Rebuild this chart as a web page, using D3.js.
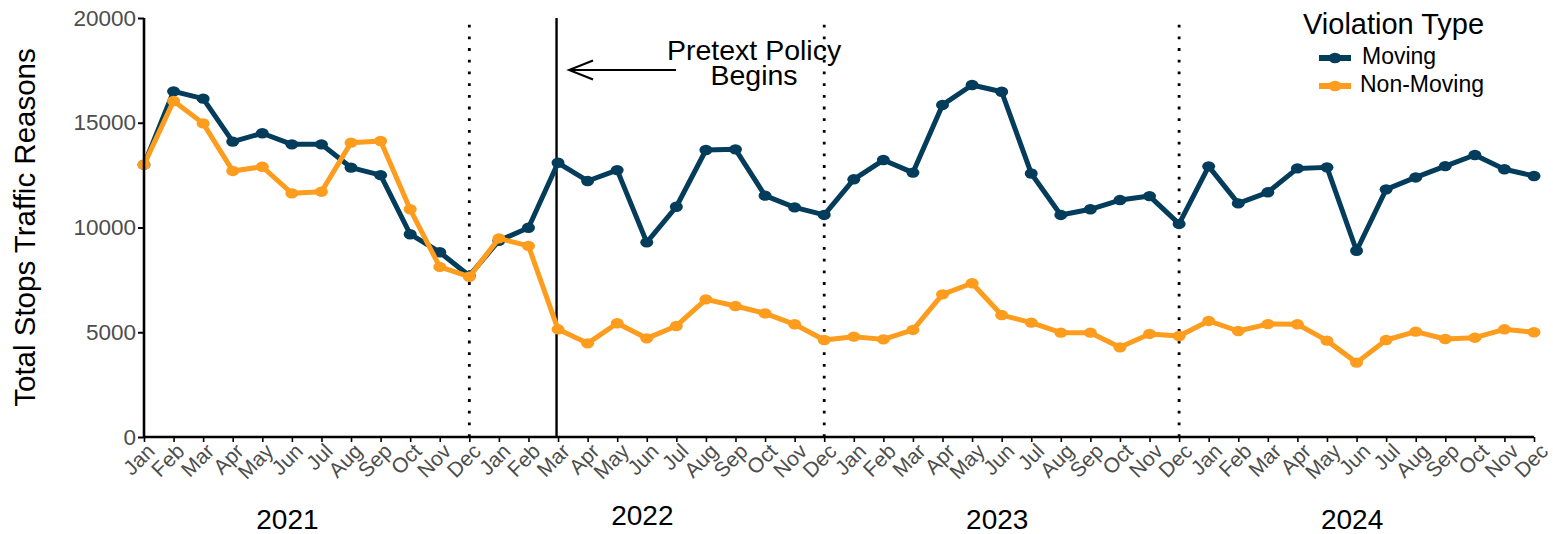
<!DOCTYPE html>
<html>
<head>
<meta charset="utf-8">
<script src="https://cdn.jsdelivr.net/npm/d3@7"></script>
<style>
  html, body { margin: 0; padding: 0; background: #ffffff; }
  svg { display: block; font-family: "Liberation Sans", Arial, Helvetica, sans-serif; }
</style>
</head>
<body>
<svg id="chart" width="1553" height="534"></svg>
<script>
// ---------------- data ----------------
const monthNames = ["Jan","Feb","Mar","Apr","May","Jun","Jul","Aug","Sep","Oct","Nov","Dec"];
const years = [2021, 2022, 2023, 2024];
const moving = [
  13000, 16500, 16150, 14100, 14500, 13970, 13970, 12860, 12500, 9680, 8820, 7700,
  9370, 9990, 13090, 12220, 12740, 9290, 10990, 13700, 13730, 11520, 10960, 10600,
  12300, 13220, 12620, 15850, 16800, 16480, 12580, 10600, 10870, 11310, 11500, 10170,
  12920, 11150, 11680, 12820, 12870, 8890, 11820, 12390, 12930, 13460, 12780, 12460
];
const nonMoving = [
  13000, 16040, 14970, 12700, 12900, 11630, 11710, 14050, 14130, 10870, 8120, 7650,
  9480, 9120, 5140, 4470, 5430, 4710, 5300, 6570, 6250, 5900, 5380, 4630,
  4790, 4660, 5110, 6810, 7340, 5820, 5460, 4980, 4980, 4280, 4920, 4820,
  5540, 5060, 5390, 5380, 4600, 3550, 4630, 5030, 4680, 4740, 5140, 5000
];
const yTicks = [0, 5000, 10000, 15000, 20000];
const seriesNames = ["Moving", "Non-Moving"];
const seriesColors = ["#043c5b", "#fd9c1d"];
const yearEndIndices = [11, 23, 35];   // Dec 2021, Dec 2022, Dec 2023
const policyIndex = 14;                // Mar 2022
const annotationLines = ["Pretext Policy", "Begins"];
const yTitle = "Total Stops Traffic Reasons";
const legendTitle = "Violation Type";

// ---------------- layout ----------------
const svg = d3.select("#chart");
const nPts = moving.length;
const x = d3.scaleLinear().domain([0, nPts - 1]).range([144, 1534]);
const y = d3.scaleLinear().domain([0, 20000]).range([437, 18]);

const labels = d3.range(nPts).map(i => monthNames[i % 12]);
const series = [
  { name: seriesNames[0], values: moving, color: seriesColors[0] },
  { name: seriesNames[1], values: nonMoving, color: seriesColors[1] }
];

// ---------------- reference lines ----------------
svg.selectAll("line.dec")
  .data(yearEndIndices)
  .join("line")
  .attr("class", "dec")
  .attr("x1", d => x(d)).attr("x2", d => x(d))
  .attr("y1", y(0)).attr("y2", y(19700))
  .attr("stroke", "#000")
  .attr("stroke-width", 2.8)
  .attr("stroke-dasharray", "2.8 8.9");

svg.append("line")
  .attr("x1", x(policyIndex) - 1.5).attr("x2", x(policyIndex) - 1.5)
  .attr("y1", y(0)).attr("y2", y(20000))
  .attr("stroke", "#000")
  .attr("stroke-width", 2.4);

// ---------------- series ----------------
const line = d3.line().x((d, i) => x(i)).y(d => y(d));

series.forEach(s => {
  const g = svg.append("g");
  g.append("path")
    .datum(s.values)
    .attr("d", line)
    .attr("fill", "none")
    .attr("stroke", s.color)
    .attr("stroke-width", 5)
    .attr("stroke-linejoin", "round");
  g.selectAll("ellipse")
    .data(s.values)
    .join("ellipse")
    .attr("cx", (d, i) => x(i))
    .attr("cy", d => y(d))
    .attr("rx", 6.5)
    .attr("ry", 5.2)
    .attr("fill", s.color);
});

// ---------------- axes ----------------
const yAxis = svg.append("g")
  .attr("transform", `translate(${x(0)},0)`)
  .call(d3.axisLeft(y).tickValues(yTicks).tickFormat(d3.format("d")).tickSize(6).tickPadding(2));
yAxis.select(".domain").attr("stroke", "#000").attr("stroke-width", 2.6)
  .attr("d", `M0,${y(20000)}V${y(0)}`);
yAxis.selectAll(".tick line").attr("stroke", "#000").attr("stroke-width", 2);
yAxis.selectAll(".tick text")
  .attr("fill", "#4d4d4d")
  .style("font-size", "22.5px")
  .style("font-family", "'Liberation Sans', Arial, sans-serif");

const xAxis = svg.append("g")
  .attr("transform", `translate(0,${y(0)})`)
  .call(d3.axisBottom(x).tickValues(d3.range(nPts)).tickFormat(() => "").tickSize(5));
xAxis.select(".domain").attr("stroke", "#000").attr("stroke-width", 2.6)
  .attr("d", `M${x(0)},0H${x(nPts - 1)}`);
xAxis.selectAll(".tick line").attr("stroke", "#000").attr("stroke-width", 1.6);

// Month labels (rotated 45 degrees, top-right corner near the tick)
svg.append("g")
  .selectAll("text.month")
  .data(labels)
  .join("text")
  .attr("class", "month")
  .attr("transform", (d, i) => `translate(${x(i) + 1.5 + 3.5 * i / (nPts - 1)},${y(0) + 5}) rotate(-45)`)
  .attr("text-anchor", "end")
  .attr("dy", "0.71em")
  .attr("fill", "#4d4d4d")
  .style("font-size", "21px")
  .text(d => d);

// Year labels
svg.selectAll("text.year")
  .data(years)
  .join("text")
  .attr("class", "year")
  .attr("x", (d, i) => x(i * 12 + 4.85))
  .attr("y", (d, i) => i === 1 ? 525 : 529)
  .attr("text-anchor", "middle")
  .attr("fill", "#000")
  .style("font-size", "28px")
  .text(d => d);

// Y axis title
svg.append("text")
  .attr("transform", `translate(35,${(y(0) + y(20000)) / 2}) rotate(-90)`)
  .attr("text-anchor", "middle")
  .attr("fill", "#000")
  .style("font-size", "29.5px")
  .text(yTitle);

// ---------------- annotation ----------------
const px = x(policyIndex);
const ay = 70;
svg.append("line")
  .attr("x1", px + 118).attr("x2", px + 11)
  .attr("y1", ay).attr("y2", ay)
  .attr("stroke", "#000").attr("stroke-width", 2);
svg.append("path")
  .attr("d", `M${px + 35},${ay - 9.5}L${px + 11},${ay}L${px + 35},${ay + 9.5}`)
  .attr("fill", "none").attr("stroke", "#000").attr("stroke-width", 2);
const annot = svg.append("text")
  .attr("text-anchor", "middle")
  .attr("fill", "#000")
  .style("font-size", "28.5px");
annot.selectAll("tspan")
  .data(annotationLines)
  .join("tspan")
  .attr("x", px + 196)
  .attr("y", (d, i) => 60 + i * 24.5)
  .text(d => d);

// ---------------- legend ----------------
const lg = svg.append("g");
lg.append("text")
  .attr("x", 1303).attr("y", 34)
  .attr("fill", "#000")
  .style("font-size", "29px")
  .text(legendTitle);
const items = lg.selectAll("g.item")
  .data(series)
  .join("g")
  .attr("class", "item")
  .attr("transform", (d, i) => `translate(0,${58 + i * 28})`);
items.append("line")
  .attr("x1", 1319).attr("x2", 1351)
  .attr("y1", 0).attr("y2", 0)
  .attr("stroke", d => d.color)
  .attr("stroke-width", 6);
items.append("ellipse")
  .attr("cx", 1335).attr("cy", 0)
  .attr("rx", 6.5).attr("ry", 5.2)
  .attr("fill", d => d.color);
items.append("text")
  .attr("x", (d, i) => i === 0 ? 1362 : 1360)
  .attr("y", 5.5)
  .attr("fill", "#000")
  .style("font-size", "23px")
  .text(d => d.name);
</script>
</body>
</html>
